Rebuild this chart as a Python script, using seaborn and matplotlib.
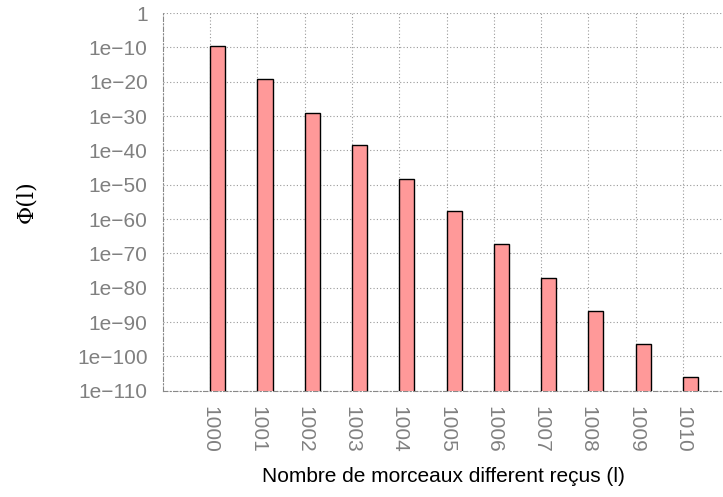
import seaborn as sns
import matplotlib.pyplot as plt
import numpy as np

# Number of different pieces received and Phi(l)
pieces = [1000, 1001, 1002, 1003, 1004, 1005, 1006, 1007, 1008, 1009, 1010]
phi = [3e-10, 6e-20, 1e-29, 3e-39, 6e-49, 2e-58, 4e-68, 6e-78, 1.6e-87, 4e-97, 1e-106]
ytick_vals = [10.0 ** -k for k in range(0, 111, 10)]
ytick_labels = ["1"] + ["1e\u2212%d" % k for k in range(10, 111, 10)]

sns.set_style("white")
plt.rcParams['font.family'] = ['Liberation Sans', 'DejaVu Sans']

fig = plt.figure(figsize=(7.23, 4.97), dpi=100)
ax = fig.add_axes([0.2254, 0.2139, 0.7746, 0.7599])

bar_w = 0.32
sns.barplot(x=pieces, y=phi, native_scale=True, width=bar_w, color="#ff9999",
            saturation=1, edgecolor="black", linewidth=1, ax=ax, zorder=3)
# gnuplot-like: bars start at the tick rather than being centred on it
for p in ax.patches:
    p.set_x(p.get_x() + bar_w / 2)

ax.set_yscale("log")
ax.set_ylim(1e-110, 1)
ax.set_xlim(999, 1010.85)
ax.set_yticks(ytick_vals)
ax.set_yticklabels(ytick_labels)
ax.minorticks_off()
ax.set_xticks(pieces)
ax.set_xticklabels([str(p) for p in pieces], rotation=270, ha="center")

ax.tick_params(axis="both", colors="#808080", labelsize=15, length=0, pad=11)
ax.grid(True, linestyle=(0, (1, 2)), color="#999999", linewidth=0.8, zorder=0)

for s in ["top", "right"]:
    ax.spines[s].set_visible(False)
for s in ["left", "bottom"]:
    ax.spines[s].set_linestyle((0, (4, 2, 1, 2)))
    ax.spines[s].set_color("#888888")
    ax.spines[s].set_linewidth(0.8)

ax.set_xlabel("Nombre de morceaux different reçus (l)", fontsize=15, labelpad=10,
              color="black")
fig.text(0.036, 0.595, "\u03a6(l)", rotation=90, fontsize=16, va="center", ha="center",
         color="black", family=["DejaVu Serif"])

fig.savefig("out.png", dpi=100)
